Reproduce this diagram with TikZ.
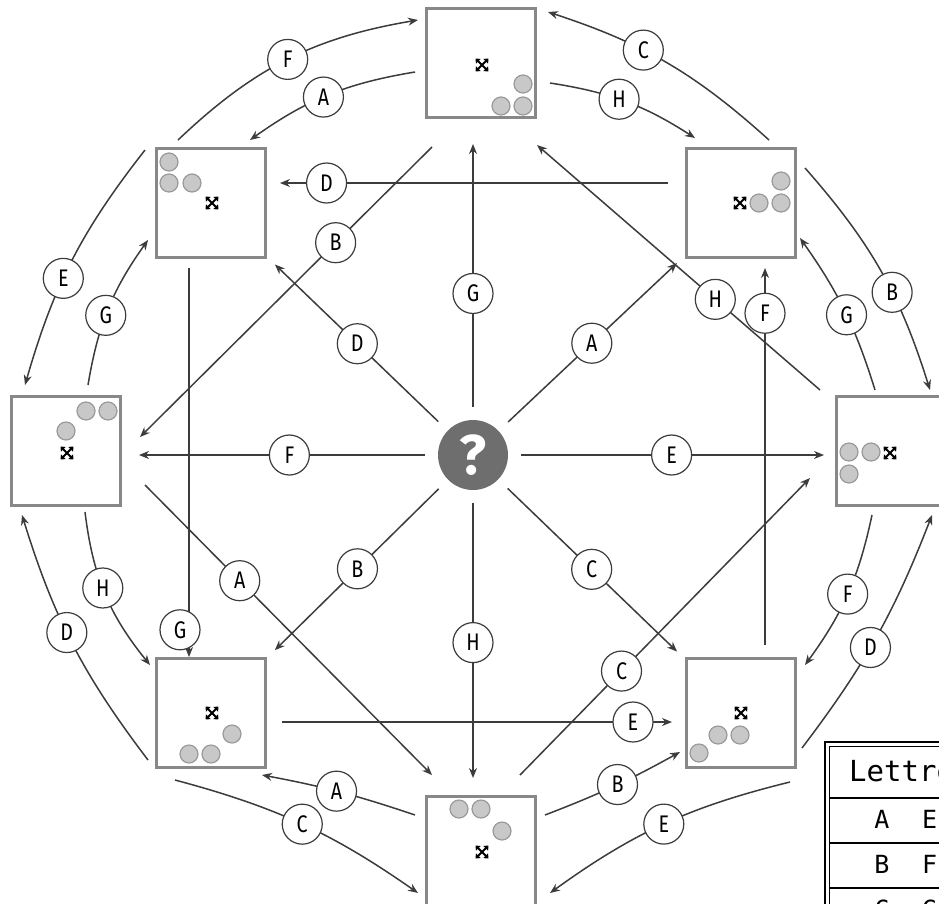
\documentclass[tikz,border=0pt]{standalone}
\usepackage{fontspec}
\setmainfont{Fira Sans}
\newfontfamily\lblfont[FakeStretch=0.82]{Fira Sans}
\newfontfamily\tblfont{DejaVu Sans Mono}
\usetikzlibrary{arrows.meta,calc}
\definecolor{ln}{HTML}{3C3C3C}
\definecolor{bx}{HTML}{888888}
\definecolor{tokf}{HTML}{C8C8C8}
\definecolor{tokd}{HTML}{9A9A9A}
\definecolor{qf}{HTML}{6E6E6E}
\tikzset{
  box/.style={draw=bx, line width=3pt, fill=white, minimum size=109pt, inner sep=0pt},
  tok/.style={fill=tokf, draw=tokd, line width=1.2pt},
  conn/.style={draw=ln, line width=1.5pt, -{Stealth[length=10pt,width=8pt]}},
  lbl/.style={circle, draw=ln, line width=1.2pt, fill=white, minimum size=40pt, inner sep=0pt, font=\lblfont\fontsize{24}{24}\selectfont},
  tcell/.style={inner sep=0pt, font=\tblfont\fontsize{25}{25}\selectfont},
  mv/.pic={\foreach \sx/\sy in {1/1,1/-1,-1/1,-1/-1}{\draw[line width=2pt,-{Triangle[length=4pt,width=6.5pt]}] (0,0) -- (\sx*6.5,\sy*6.5);}}
}
\begin{document}
\begin{tikzpicture}[x=1pt,y=-1pt]
\useasboundingbox (0,0) rectangle (939,903);
\clip (0,0) rectangle (939,903);
% boxes
\node[box] (T)  at (481,63) {};
\node[box] (TL) at (211,203) {};
\node[box] (TR) at (741,203) {};
\node[box] (L)  at (66,451) {};
\node[box] (R)  at (891,451) {};
\node[box] (BL) at (211,713) {};
\node[box] (BR) at (741,713) {};
\node[box] (B)  at (481,851) {};
% tokens
\foreach \p in {(523,84),(501,106),(523,106),
                (169,162),(169,183),(192,183),
                (781,181),(759,203),(781,203),
                (86,411),(108,411),(66,431),
                (849,452),(871,452),(849,474),
                (232,734),(189,754),(211,754),
                (740,735),(718,735),(699,753),
                (459,809),(481,809),(502,831)}
  \draw[tok] \p circle[radius=9pt];
\foreach \p in {(482,65),(212,203),(740,203),(67,453),(890,453),(212,713),(741,713),(482,852)}
  \pic at \p {mv};
% centre
\node[circle, fill=qf, minimum size=70pt, inner sep=0pt] (Q) at (473,455) {\fontsize{56}{56}\selectfont\bfseries\color{white}?};
% centre connectors
\draw[conn, shorten <=13pt, shorten >=25pt] (Q) -- (Q |- T.south) node[lbl,pos=.42] (cG) {G};
\draw[conn, shorten <=13pt, shorten >=17pt] (Q) -- (Q |- B.north) node[lbl,pos=.5] (cH) {H};
\draw[conn, shorten <=13pt, shorten >=17pt] (Q) -- (Q -| L.east) node[lbl,pos=.47] (cF) {F};
\draw[conn, shorten <=13pt, shorten >=11pt] (Q) -- (Q -| R.west) node[lbl,pos=.5] (cE) {E};
\draw[conn, shorten <=13pt, shorten >=11pt] (Q) -- (TL) node[lbl,pos=.5] (cD) {D};
\draw[conn, shorten <=13pt, shorten >=11pt] (Q) -- (TR) node[lbl,pos=.5] (cA) {A};
\draw[conn, shorten <=13pt, shorten >=11pt] (Q) -- (BL) node[lbl,pos=.5] (cB) {B};
\draw[conn, shorten <=13pt, shorten >=11pt] (Q) -- (BR) node[lbl,pos=.5] (cC) {C};
% ring arcs
\draw[conn] ([shift={(-33,-63)}]TL.center) to[bend left=17] node[lbl] (a1) {F} ([shift={(-63,-43)}]T.center);
\draw[conn] ([shift={(-66,9)}]T.center) to[bend right=13] node[lbl,pos=.53] (a2) {A} ([shift={(39,-63)}]TL.center);
\draw[conn] ([shift={(-66,-53)}]TL.center) to[bend right=11] node[lbl,pos=.58] (a3) {E} ([shift={(-41,-66)}]L.center);
\draw[conn] ([shift={(22,-66)}]L.center) to[bend left=13] node[lbl,pos=.45] (a4) {G} ([shift={(-63,37)}]TL.center);
\draw[conn] ([shift={(28,-63)}]TR.center) to[bend right=12] node[lbl,pos=.61] (a5) {C} ([shift={(67,-51)}]T.center);
\draw[conn] ([shift={(69,20)}]T.center) to[bend left=12] node[lbl,pos=.45] (a6) {H} ([shift={(-46,-65)}]TR.center);
\draw[conn] ([shift={(64,-35)}]TR.center) to[bend left=12] node[lbl,pos=.6] (a7) {B} ([shift={(39,-61)}]R.center);
\draw[conn] ([shift={(-16,-61)}]R.center) to[bend right=9] node[lbl,pos=.47] (a8) {G} ([shift={(59,35)}]TR.center);
\draw[conn] ([shift={(-19,64)}]R.center) to[bend left=12] node[lbl] (a9) {F} ([shift={(64,-48)}]BR.center);
\draw[conn] ([shift={(61,35)}]BR.center) to[bend right=8] node[lbl,pos=.45] (a10) {D} ([shift={(41,64)}]R.center);
\draw[conn] ([shift={(64,-36)}]B.center) to[bend right=4] node[lbl,pos=.53] (a11) {B} ([shift={(-61,39)}]BR.center);
\draw[conn] ([shift={(49,69)}]BR.center) to[bend right=11] node[lbl] (a12) {E} ([shift={(69,42)}]B.center);
\draw[conn] ([shift={(-66,-36)}]B.center) to[bend right=4] node[lbl,pos=.52] (a13) {A} ([shift={(51,62)}]BL.center);
\draw[conn] ([shift={(-36,67)}]BL.center) to[bend left=10] node[lbl] (a14) {C} ([shift={(-63,42)}]B.center);
\draw[conn] ([shift={(19,61)}]L.center) to[bend right=16] node[lbl,pos=.46] (a15) {H} ([shift={(-61,-48)}]BL.center);
\draw[conn] ([shift={(-63,47)}]BL.center) to[bend left=10] node[lbl,pos=.55] (a16) {D} ([shift={(-44,64)}]L.center);
% cross connectors
\draw[conn] ([shift={(-73,-20)}]TR.center) -- ([shift={(69,-20)}]TL.center) node[lbl,pos=.88] (s1) {D};
\draw[conn] ([shift={(-49,84)}]T.center) -- ([shift={(74,-14)}]L.center) node[lbl,pos=.33] (s2) {B};
\draw[conn] ([shift={(-71,-61)}]R.center) -- ([shift={(56,82)}]T.center) node[lbl,pos=.37] (s3) {H};
\draw[conn] ([shift={(24,-68)}]BR.center) -- ([shift={(24,65)}]TR.center) node[lbl,pos=.88] (s4) {F};
\draw[conn] ([shift={(-22,65)}]TL.center) -- ([shift={(-22,-56)}]BL.center) node[lbl,pos=.93,xshift=-9pt] (s5) {G};
\draw[conn] ([shift={(79,34)}]L.center) -- ([shift={(-49,-76)}]B.center) node[lbl,pos=.33] (s6) {A};
\draw[conn] ([shift={(71,9)}]BL.center) -- ([shift={(-69,9)}]BR.center) node[lbl,pos=.9] (s7) {E};
\draw[conn] ([shift={(39,-76)}]B.center) -- ([shift={(-81,27)}]R.center) node[lbl,pos=.35] (s8) {C};
% table (cut by the frame)
\fill[white] (825,742) rectangle (950,910);
\draw[line width=2.2pt] (825,950) -- (825,742) -- (950,742);
\draw[line width=1pt] (829.5,950) -- (829.5,746.5) -- (950,746.5);
\foreach \yy in {798,843,888} \draw[line width=1.5pt] (829.5,\yy) -- (950,\yy);
\node[tcell, anchor=base west, font=\tblfont\fontsize{29}{29}\selectfont] (th) at (849,781) {Lettre};
\node[tcell, anchor=base] (r1a) at (882,828) {A};
\node[tcell, anchor=base west] (r1b) at (922,828) {E};
\node[tcell, anchor=base] (r2a) at (882,873) {B};
\node[tcell, anchor=base west] (r2b) at (922,873) {F};
\node[tcell, anchor=base] (r3a) at (882,918) {C};
\node[tcell, anchor=base west] (r3b) at (922,918) {G};
\end{tikzpicture}
\end{document}
